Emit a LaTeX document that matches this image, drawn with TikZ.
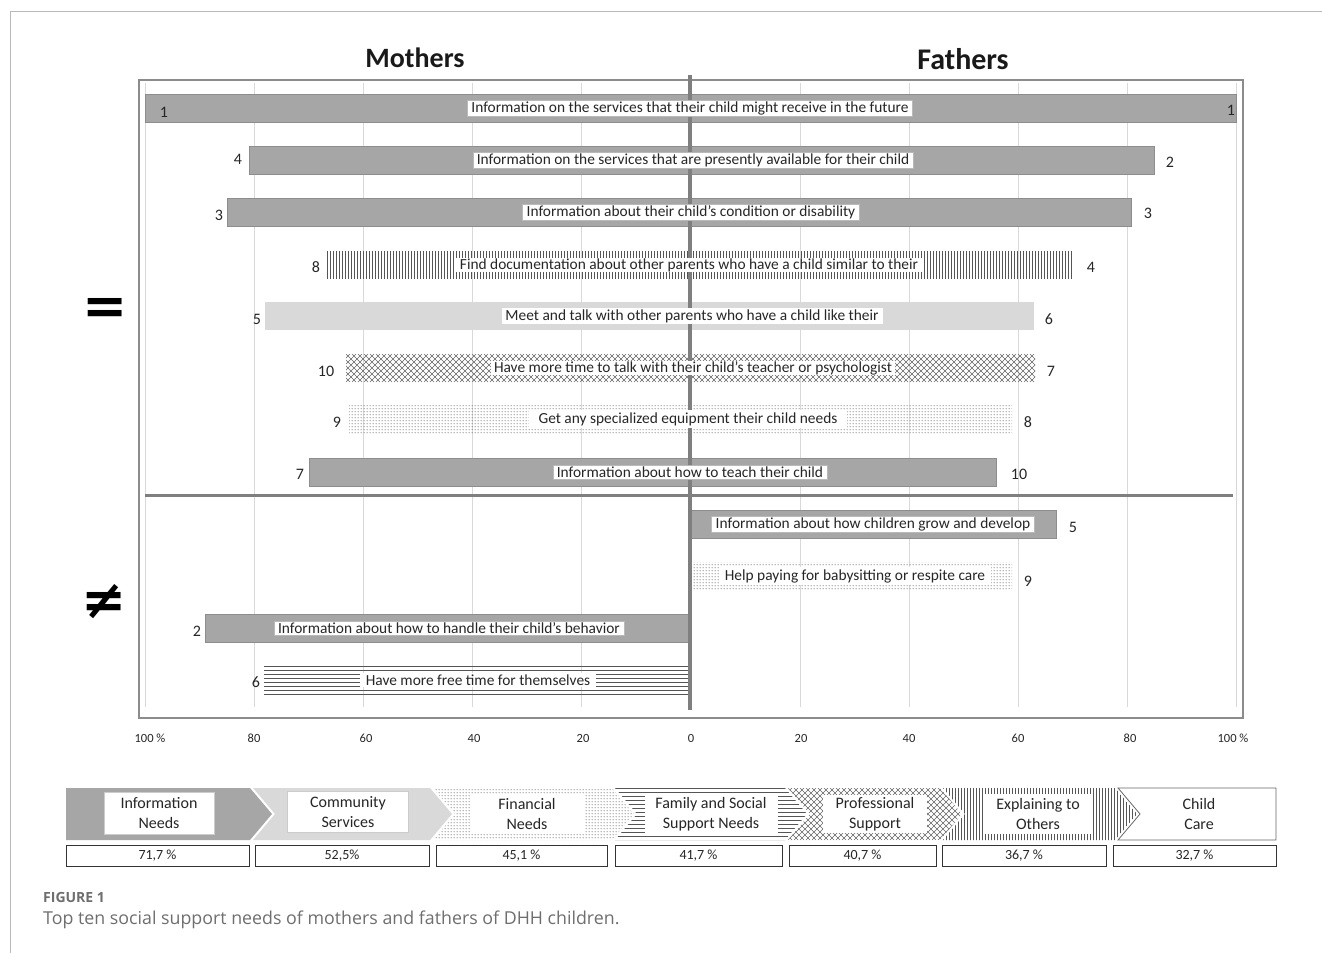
\documentclass[tikz,border=0pt]{standalone}
\usepackage{fontspec}
\setmainfont{Carlito}
\newfontfamily\capfont{Open Sans}
\newfontfamily\symfont{DejaVu Sans}
\usetikzlibrary{patterns.meta}
\definecolor{barg}{HTML}{A6A6A6}
\definecolor{lightg}{HTML}{D9D9D9}
\definecolor{gridg}{HTML}{D9D9D9}
\definecolor{axisg}{HTML}{7F7F7F}
\definecolor{patg}{HTML}{555555}
\definecolor{dotg}{HTML}{404040}
\definecolor{capg}{HTML}{6E6E6E}
\definecolor{frameg}{HTML}{8C8C8C}

\tikzdeclarepattern{name=pdots, type=uncolored, bounding box={(0pt,0pt) and (3pt,3pt)}, tile size={(3pt,3pt)},
  code={\fill (1.5pt,1.5pt) circle (0.65pt);}}

\newcommand{\fs}[1]{\fontsize{#1pt}{\dimexpr #1pt*5/4\relax}\selectfont}

\tikzset{
  solidbar/.style={fill=barg, draw=barg!85!black, line width=0.6pt},
  lightbar/.style={fill=lightg, draw=none},
  dotbar/.style={pattern={pdots}, pattern color=dotg, draw=none},
  hatch/.style={draw=patg, line width=0.9pt},
  xhatch/.style={draw=patg!90, line width=0.55pt},
  lbl/.style={fill=white, draw=gray!55, line width=0.5pt, inner xsep=4pt, inner ysep=1.5pt, font=\fs{15.4}, text=black!85},
  plbl/.style={fill=white, draw=none, inner xsep=6pt, inner ysep=1pt, font=\fs{15.4}, text=black!85},
  num/.style={font=\fs{16}, text=black!85, inner sep=0pt},
  tick/.style={font=\fs{12.5}, text=black!85, inner sep=0pt},
  gridline/.style={draw=gridg, line width=1pt},
  chev/.style={line width=0.5pt},
  lgtxt/.style={align=center, font=\fs{16}, text=black!85, inner sep=0pt},
  lgbox/.style={fill=white, align=center, font=\fs{16}, text=black!85, inner sep=0pt},
  pbox/.style={draw=black!80, line width=0.8pt, fill=white, minimum height=21pt, font=\fs{14}, text=black!85, inner sep=0pt}
}

\begin{document}
\begin{tikzpicture}[x=1pt,y=-1pt]
\useasboundingbox (0,0) rectangle (1322,953);
% page frame
\draw[draw=gray!55, line width=1pt] (10.5,953) -- (10.5,11.5) -- (1322,11.5);

% headings
\node[font=\fs{28}\bfseries, text=black!90] (hm) at (415,58) {Mothers};
\node[font=\fs{30}\bfseries, text=black!90] (hf) at (963,59) {Fathers};

% symbols
\node[font=\symfont\bfseries\fs{54}, text=black] (eq) at (105,311) {=};
\node[font=\symfont\bfseries\fs{54}, text=black] (neq) at (104,602) {≠};

% plot frame
\draw[draw=frameg, line width=1.5pt] (139,80) rectangle (1243,718);

% gridlines
\foreach \gx in {145,254,363,472,581,800,909,1018,1127,1236}
  \draw[gridline] (\gx+0.5,83) -- (\gx+0.5,707);

% bars
\path[solidbar] (145,94) rectangle (1236,122);
\path[solidbar] (249,146) rectangle (1154,174);
\path[solidbar] (227,198) rectangle (1131,226);
% vertical-line bar
\foreach \vx in {327.5,330.5,...,1071.5}
  \draw[hatch] (\vx,251) -- (\vx,279);
\path[lightbar] (265,302) rectangle (1034,330);
% crosshatch bar
\begin{scope}
  \clip (346,354) rectangle (1035,382);
  \foreach \cx in {316,322,...,1040}
    \draw[xhatch] (\cx,354) -- (\cx+28,382) (\cx+28,354) -- (\cx,382);
\end{scope}
\path[dotbar] (349,405) rectangle (1012,433);
\path[solidbar] (309,458) rectangle (996,486);
\path[solidbar] (690,510) rectangle (1056,538);
\path[dotbar] (690,562) rectangle (1012,590);
\path[solidbar] (205,614) rectangle (690,642);
\foreach \hy in {666.5,670.5,...,694.5}
  \draw[hatch] (264,\hy) -- (690,\hy);

% centre axis
\draw[draw=axisg, line width=4pt] (690,75) -- (690,710);
% divider
\draw[draw=axisg, line width=3pt] (145,495) -- (1233,495);

% labels
\node[lbl] (l1) at (690,108) {Information on the services that their child might receive in the future};
\node[lbl] (l2) at (693,160) {Information on the services that are presently available for their child};
\node[lbl] (l3) at (691,212) {Information about their child’s condition or disability};
\node[plbl, inner ysep=0pt] (l4) at (689,265) {Find documentation about other parents who have a child similar to their};
\node[lbl, draw=none] (l5) at (692,316) {Meet and talk with other parents who have a child like their};
\node[plbl, inner ysep=0pt, inner xsep=3pt] (l6) at (693,368) {Have more time to talk with their child’s teacher or psychologist};
\node[plbl, inner ysep=2pt, inner xsep=10pt] (l7) at (688,419) {Get any specialized equipment their child needs};
\node[lbl] (l8) at (690,472) {Information about how to teach their child};
\node[lbl] (l9) at (873,524) {Information about how children grow and develop};
\node[plbl, inner ysep=2pt] (l10) at (855,576) {Help paying for babysitting or respite care};
\node[lbl] (l11) at (449,628) {Information about how to handle their child’s behavior};
\node[plbl, inner ysep=2pt] (l12) at (478,680) {Have more free time for themselves};

% rank numbers
\node[num] (m1) at (164,112) {1};
\node[num] (f1) at (1231,110) {1};
\node[num] (m2) at (238,159) {4};
\node[num] (f2) at (1170,162) {2};
\node[num] (m3) at (219,215) {3};
\node[num] (f3) at (1148,213) {3};
\node[num] (m4) at (316,267) {8};
\node[num] (f4) at (1091,267) {4};
\node[num] (m5) at (257,319) {5};
\node[num] (f5) at (1049,319) {6};
\node[num] (m6) at (326,371) {10};
\node[num] (f6) at (1051,371) {7};
\node[num] (m7) at (337,422) {9};
\node[num] (f7) at (1028,422) {8};
\node[num] (m8) at (300,474) {7};
\node[num] (f8) at (1019,474) {10};
\node[num] (f9) at (1073,527) {5};
\node[num] (f10) at (1028,581) {9};
\node[num] (m11) at (197,631) {2};
\node[num] (m12) at (256,682) {6};

% axis ticks
\node[tick] (t0) at (150,738) {100 \%};
\node[tick] (t1) at (254,738) {80};
\node[tick] (t2) at (366,738) {60};
\node[tick] (t3) at (474,738) {40};
\node[tick] (t4) at (583,738) {20};
\node[tick] (t5) at (691,738) {0};
\node[tick] (t6) at (801,738) {20};
\node[tick] (t7) at (909,738) {40};
\node[tick] (t8) at (1018,738) {60};
\node[tick] (t9) at (1130,738) {80};
\node[tick] (t10) at (1233,738) {100 \%};

% legend chevrons
\path[chev, fill=barg] (66,788) -- (250,788) -- (272,814) -- (250,840) -- (66,840) -- cycle;
\path[chev, fill=lightg] (253,788) -- (430,788) -- (452,814) -- (430,840) -- (253,840) -- (275,814) -- cycle;
\path[chev, pattern={pdots}, pattern color=dotg] (433,788) -- (612,788) -- (634,814) -- (612,840) -- (433,840) -- (455,814) -- cycle;
\begin{scope}
  \clip (615,788) -- (785,788) -- (807,814) -- (785,840) -- (615,840) -- (637,814) -- cycle;
  \foreach \hy in {788.5,792.5,...,840.5}
    \draw[hatch] (610,\hy) -- (810,\hy);
\end{scope}
\begin{scope}
  \clip (788,788) -- (940,788) -- (962,814) -- (940,840) -- (788,840) -- (810,814) -- cycle;
  \foreach \cx in {734,740,...,968}
    \draw[xhatch] (\cx,788) -- (\cx+52,840) (\cx+52,788) -- (\cx,840);
\end{scope}
\begin{scope}
  \clip (943,788) -- (1115,788) -- (1137,814) -- (1115,840) -- (943,840) -- (965,814) -- cycle;
  \foreach \vx in {943.5,946.5,...,1138.5}
    \draw[hatch] (\vx,786) -- (\vx,842);
\end{scope}
\draw[chev, draw=black!60, line width=0.8pt] (1118,788) -- (1276,788) -- (1276,840) -- (1118,840) -- (1140,814) -- cycle;

\node[lgbox, draw=gray!40, minimum width=110pt, minimum height=42pt] (g1) at (159,813) {Information\\Needs};
\node[lgbox, draw=gray!40, minimum width=121pt, minimum height=41pt] (g2) at (348,812) {Community\\Services};
\node[lgbox, minimum width=115pt, minimum height=38pt] (g3) at (527,814) {Financial\\Needs};
\node[lgbox, minimum width=133pt, minimum height=38pt] (g4) at (711,814) {Family and Social\\Support Needs};
\node[lgbox, minimum width=104pt, minimum height=38pt] (g5) at (875,814) {Professional\\Support};
\node[lgbox, minimum width=107pt, minimum height=40pt] (g6) at (1038,814) {Explaining to\\Others};
\node[lgtxt] (g7) at (1199,814) {Child\\Care};

% percentage boxes
\node[pbox, minimum width=183pt] (p1) at (157.5,855.5) {71,7 \%};
\node[pbox, minimum width=174pt] (p2) at (342,855.5) {52,5\%};
\node[pbox, minimum width=171pt] (p3) at (521.5,855.5) {45,1 \%};
\node[pbox, minimum width=167pt] (p4) at (698.5,855.5) {41,7 \%};
\node[pbox, minimum width=147pt] (p5) at (862.5,855.5) {40,7 \%};
\node[pbox, minimum width=164pt] (p6) at (1024,855.5) {36,7 \%};
\node[pbox, minimum width=163pt] (p7) at (1194.5,855.5) {32,7 \%};

% caption
\node[anchor=west, inner sep=0pt, font=\capfont\bfseries\fs{14}, text=capg] (cap1) at (43,897) {FIGURE 1};
\node[anchor=west, inner sep=0pt, font=\capfont\fs{17.8}, text=capg] (cap2) at (43,920) {Top ten social support needs of mothers and fathers of DHH children.};
\end{tikzpicture}
\end{document}
